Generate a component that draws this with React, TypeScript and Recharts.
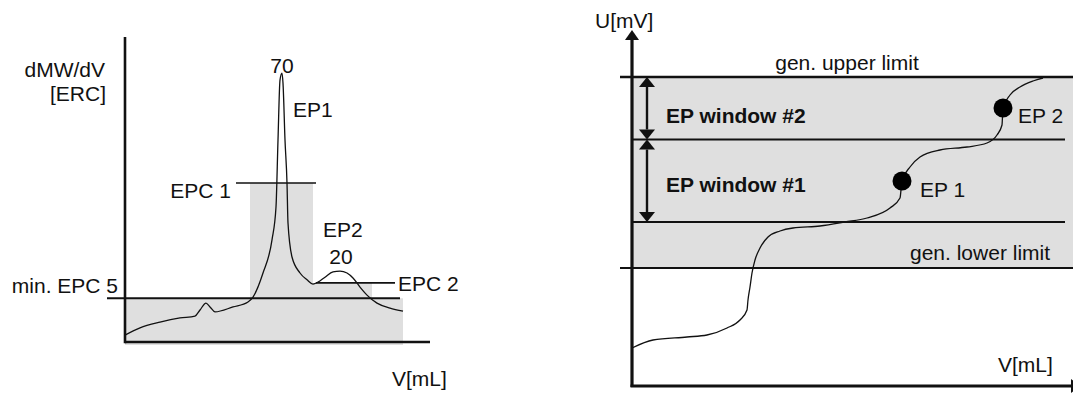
import { LineChart, Line, XAxis, YAxis, ReferenceArea, ReferenceLine, ReferenceDot } from "recharts";

// left panel: first derivative dMW/dV [ERC] over V [mL]
const derivV = [0, 1.5, 3.5, 5.5, 7.0, 7.5, 8.1, 8.5, 9.0, 10.8, 12.3, 12.8, 13.8, 14.7, 15.1, 15.3, 15.5, 15.7, 15.8, 16.0, 16.2, 16.3, 16.7, 17.5, 18.2, 18.8, 19.3, 20.0, 20.8, 21.5, 22.2, 22.8, 23.5, 24.2, 25.2, 26.5, 27.8];
const derivERC = [1.8, 3.7, 5.2, 6.3, 6.8, 8.4, 10.2, 9.2, 7.9, 9.2, 10.5, 11.8, 18.1, 26.8, 35.4, 53.0, 68.7, 70.5, 67.9, 53.0, 41.7, 31.2, 22.3, 18.1, 16.3, 15.2, 15.7, 17.0, 18.4, 18.6, 18.1, 16.8, 14.4, 12.3, 10.2, 8.9, 8.1];

// ERC levels and V ranges
const minEPC = 11.5;
const epc1 = 41.7;
const epc2 = 15.5;
const evalRange = [0, 27.8];
const ep1Range = [12.5, 18.8];
const ep2Range = [18.8, 24.7];

const leftNotes = ["dMW/dV", "[ERC]", "70", "EP1", "EPC 1", "EP2", "20", "EPC 2", "min. EPC 5", "V[mL]"];

// right panel: titration curve U [mV] over V [mL]
const titrV = [0, 2.1, 5.5, 7.5, 9.5, 10.8, 11.5, 11.6, 11.8, 12.0, 12.3, 12.8, 13.6, 14.8, 16.1, 18.8, 21.3, 23.5, 25.8, 26.8, 27.0, 27.8, 28.8, 30.8, 33.5, 35.5, 36.5, 37.0, 37.1, 37.8, 38.8, 40.1, 41.1];
const titrU = [38, 46, 49, 51, 58, 66, 76, 86, 99, 113, 126, 138, 149, 155, 158, 160, 164, 168, 178, 188, 205, 219, 229, 236, 239, 243, 251, 261, 278, 291, 299, 305, 308];

const upperLimit = 309;
const windowSplit = 246.5;
const window1Low = 164;
const lowerLimit = 118;
const endPoints = [
  { v: 27.0, u: 205 },
  { v: 37.1, u: 278 },
];

const rightNotes = ["U[mV]", "gen. upper limit", "EP window #2", "EP window #1", "EP 2", "EP 1", "gen. lower limit", "V[mL]"];

const derivData = derivV.map((x, i) => ({ x, y: derivERC[i] }));
const titrData = titrV.map((x, i) => ({ x, y: titrU[i] }));

// label placement (data units) — [x, y, anchor, bold]
const leftNotePos: [number, number, string, boolean][] = [
  [-2.0, 69.5, "end", false],
  [-1.9, 63.2, "end", false],
  [15.7, 70.6, "middle", false],
  [16.8, 59.0, "start", false],
  [10.6, 37.8, "end", false],
  [19.8, 27.5, "start", false],
  [21.6, 20.5, "middle", false],
  [27.3, 13.4, "start", false],
  [-0.7, 12.9, "end", false],
  [26.7, -11.5, "start", false],
];
const rightNotePos: [number, number, string, boolean][] = [
  [-3.7, 358, "start", false],
  [21.5, 316, "middle", false],
  [3.4, 263, "start", true],
  [3.4, 194, "start", true],
  [38.6, 263, "start", false],
  [28.8, 189, "start", false],
  [27.8, 126, "start", false],
  [36.6, 14, "start", false],
];

const FONT = "'Liberation Sans', Arial, Helvetica, sans-serif";
const GRAY = "#dfdfdf";
const INK = "#111";

const note = (key: string, text: string, pos: [number, number, string, boolean]) => (
  <ReferenceDot
    key={key}
    x={pos[0]}
    y={pos[1]}
    r={0}
    ifOverflow="visible"
    shape={(p: any) => (
      <text
        x={p.cx}
        y={p.cy}
        textAnchor={pos[2] as any}
        fontFamily={FONT}
        fontSize={21}
        fontWeight={pos[3] ? 700 : 400}
        fill={INK}
      >
        {text}
      </text>
    )}
  />
);

// line with optional filled arrow heads at its ends
const arrowShape = (start: boolean, end: boolean, width: number, len = 10, half = 7) => (p: any) => {
  const { x1, y1, x2, y2 } = p;
  const dx = x2 - x1;
  const dy = y2 - y1;
  const d = Math.hypot(dx, dy) || 1;
  const ux = dx / d;
  const uy = dy / d;
  const head = (tx: number, ty: number, dir: number) => {
    const bx = tx - ux * len * dir;
    const by = ty - uy * len * dir;
    return `${tx},${ty} ${bx - uy * half},${by + ux * half} ${bx + uy * half},${by - ux * half}`;
  };
  return (
    <g>
      <line
        x1={start ? x1 + ux * len : x1}
        y1={start ? y1 + uy * len : y1}
        x2={end ? x2 - ux * len : x2}
        y2={end ? y2 - uy * len : y2}
        stroke={INK}
        strokeWidth={width}
      />
      {start && <polygon points={head(x1, y1, -1)} fill={INK} />}
      {end && <polygon points={head(x2, y2, 1)} fill={INK} />}
    </g>
  );
};

function DerivativePanel() {
  return (
    <LineChart
      width={460}
      height={396}
      data={derivData}
      margin={{ top: 37, right: 30, bottom: 54, left: 125 }}
    >
      <XAxis type="number" dataKey="x" domain={[0, 30.5]} hide />
      <YAxis type="number" domain={[0, 80]} hide />
      <ReferenceArea x1={evalRange[0]} x2={evalRange[1]} y1={-0.8} y2={minEPC} fill={GRAY} fillOpacity={1} stroke="none" ifOverflow="visible" />
      <ReferenceArea x1={ep1Range[0]} x2={ep1Range[1]} y1={minEPC} y2={epc1} fill={GRAY} fillOpacity={1} stroke="none" ifOverflow="visible" />
      <ReferenceArea x1={ep2Range[0]} x2={ep2Range[1]} y1={minEPC} y2={epc2} fill={GRAY} fillOpacity={1} stroke="none" ifOverflow="visible" />
      <ReferenceLine segment={[{ x: -1.8, y: minEPC }, { x: 27.5, y: minEPC }]} stroke={INK} strokeWidth={2} ifOverflow="visible" />
      <ReferenceLine segment={[{ x: 11.1, y: epc1 }, { x: 19.1, y: epc1 }]} stroke={INK} strokeWidth={1.6} ifOverflow="visible" />
      <ReferenceLine segment={[{ x: 19.1, y: epc2 }, { x: 27.0, y: epc2 }]} stroke={INK} strokeWidth={1.6} ifOverflow="visible" />
      <ReferenceLine segment={[{ x: 0, y: -0.3 }, { x: 0, y: 80 }]} stroke={INK} strokeWidth={2.6} ifOverflow="visible" />
      <ReferenceLine segment={[{ x: 0, y: 0 }, { x: 30.5, y: 0 }]} stroke={INK} strokeWidth={2.6} ifOverflow="visible" />
      <Line type="monotone" dataKey="y" stroke={INK} strokeWidth={1.3} dot={false} isAnimationActive={false} />
      {leftNotes.map((t, i) => note(`l${i}`, t, leftNotePos[i]))}
    </LineChart>
  );
}

function TitrationPanel() {
  return (
    <LineChart
      width={513}
      height={396}
      data={titrData}
      margin={{ top: 36, right: 1, bottom: 10, left: 72 }}
    >
      <XAxis type="number" dataKey="x" domain={[0, 44]} hide />
      <YAxis type="number" domain={[0, 350]} hide />
      <ReferenceArea x1={0} x2={44.1} y1={lowerLimit} y2={upperLimit} fill={GRAY} fillOpacity={1} stroke="none" ifOverflow="visible" />
      <ReferenceLine segment={[{ x: -1.2, y: upperLimit }, { x: 44.2, y: upperLimit }]} stroke={INK} strokeWidth={2.4} ifOverflow="visible" />
      <ReferenceLine segment={[{ x: 0, y: windowSplit }, { x: 43.3, y: windowSplit }]} stroke={INK} strokeWidth={2} ifOverflow="visible" />
      <ReferenceLine segment={[{ x: 0, y: window1Low }, { x: 43.3, y: window1Low }]} stroke={INK} strokeWidth={2} ifOverflow="visible" />
      <ReferenceLine segment={[{ x: -1.2, y: lowerLimit }, { x: 44.2, y: lowerLimit }]} stroke={INK} strokeWidth={2} ifOverflow="visible" />
      <ReferenceLine segment={[{ x: 1.5, y: upperLimit }, { x: 1.5, y: windowSplit }]} ifOverflow="visible" shape={arrowShape(true, true, 2.4, 10, 8)} />
      <ReferenceLine segment={[{ x: 1.5, y: windowSplit }, { x: 1.5, y: window1Low }]} ifOverflow="visible" shape={arrowShape(true, true, 2.4, 10, 8)} />
      <ReferenceLine segment={[{ x: 0, y: -1 }, { x: 0, y: 356 }]} ifOverflow="visible" shape={arrowShape(false, true, 3.2, 10, 7)} />
      <ReferenceLine segment={[{ x: -0.15, y: 0 }, { x: 44.9, y: 0 }]} ifOverflow="visible" shape={arrowShape(false, true, 3.2, 10, 7)} />
      <Line type="monotone" dataKey="y" stroke={INK} strokeWidth={1.3} dot={false} isAnimationActive={false} />
      {endPoints.map((p, i) => (
        <ReferenceDot key={`ep${i}`} x={p.v} y={p.u} r={9.5} fill="#000" stroke="none" ifOverflow="visible" />
      ))}
      {rightNotes.map((t, i) => note(`r${i}`, t, rightNotePos[i]))}
    </LineChart>
  );
}

export default function App() {
  return (
    <div style={{ position: "relative", width: 1073, height: 396, background: "#fff", overflow: "hidden" }}>
      <style>{"body{margin:0}"}</style>
      <div style={{ position: "absolute", left: 0, top: 0 }}>
        <DerivativePanel />
      </div>
      <div style={{ position: "absolute", left: 560, top: 0 }}>
        <TitrationPanel />
      </div>
    </div>
  );
}
